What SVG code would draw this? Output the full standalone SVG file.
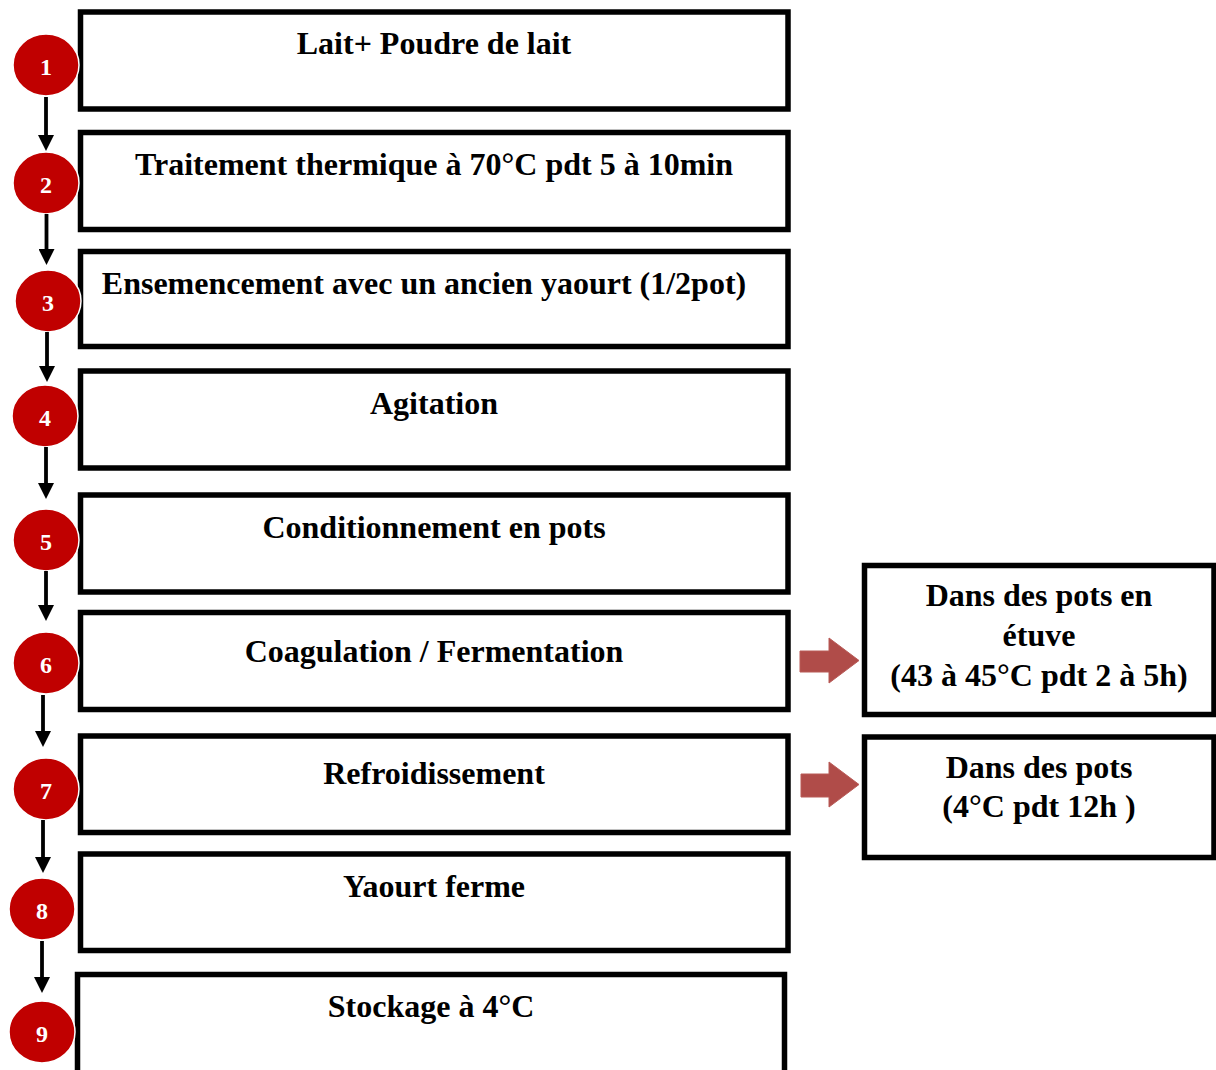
<svg xmlns="http://www.w3.org/2000/svg" width="1216" height="1070" viewBox="0 0 1216 1070">
<defs>
<style>
.box{fill:#fff;stroke:#000;stroke-width:5.5}
.t{font-family:"Liberation Serif","Times New Roman",serif;font-weight:bold;font-size:32px;fill:#000;text-anchor:middle}
.c{fill:#C00000;stroke:#fff;stroke-width:1.5}
.n{font-family:"Liberation Serif","Times New Roman",serif;font-weight:bold;font-size:24px;fill:#fff;text-anchor:middle}
.ln{stroke:#000;stroke-width:3.8;fill:none;marker-end:url(#ah)}
.ra{fill:#B04C49;stroke:#B85A57;stroke-width:1}
</style>
<marker id="ah" markerUnits="userSpaceOnUse" markerWidth="16" markerHeight="16" viewBox="0 0 16 16" refX="6" refY="8" orient="auto">
<path d="M0,0 L16,8 L0,16 z" fill="#000"/>
</marker>
</defs>
<rect width="1216" height="1070" fill="#fff"/>

<g id="step1"><rect class="box" x="80.5" y="12" width="707.5" height="97"/><text class="t" x="434" y="54">Lait+ Poudre de lait</text></g>
<g id="step2"><rect class="box" x="80.5" y="132.5" width="707.5" height="97"/><text class="t" x="434" y="175">Traitement thermique à 70°C pdt 5 à 10min</text></g>
<g id="step3"><rect class="box" x="80.5" y="251.5" width="707.5" height="95"/><text class="t" x="424" y="294">Ensemencement avec un ancien yaourt (1/2pot)</text></g>
<g id="step4"><rect class="box" x="80.5" y="371" width="707.5" height="97"/><text class="t" x="434" y="414">Agitation</text></g>
<g id="step5"><rect class="box" x="80.5" y="495" width="707.5" height="97"/><text class="t" x="434" y="538">Conditionnement en pots</text></g>
<g id="step6"><rect class="box" x="80.5" y="612.5" width="707.5" height="97"/><text class="t" x="434" y="662">Coagulation / Fermentation</text></g>
<g id="step7"><rect class="box" x="80.5" y="736" width="707.5" height="96.5"/><text class="t" x="434" y="784">Refroidissement</text></g>
<g id="step8"><rect class="box" x="80.5" y="854" width="707.5" height="96.5"/><text class="t" x="434" y="897">Yaourt ferme</text></g>
<g id="step9"><rect class="box" x="77.5" y="974.5" width="707" height="110"/><text class="t" x="431" y="1017">Stockage à 4°C</text></g>

<g id="note6"><rect class="box" x="864.5" y="565.5" width="349.5" height="149"/>
<text class="t" x="1039" y="606">Dans des pots en</text>
<text class="t" x="1039" y="646">étuve</text>
<text class="t" x="1039" y="686">(43 à 45°C pdt 2 à 5h)</text></g>
<g id="note7"><rect class="box" x="864.5" y="737" width="349.5" height="120.5"/>
<text class="t" x="1039" y="778">Dans des pots</text>
<text class="t" x="1039" y="817">(4°C pdt 12h )</text></g>

<g id="badges">
<g id="b1"><ellipse class="c" cx="46" cy="65" rx="33" ry="31"/><text class="n" x="46" y="75">1</text></g>
<g id="b2"><ellipse class="c" cx="46" cy="183" rx="33" ry="31"/><text class="n" x="46" y="193">2</text></g>
<g id="b3"><ellipse class="c" cx="48" cy="301" rx="33" ry="31"/><text class="n" x="48" y="311">3</text></g>
<g id="b4"><ellipse class="c" cx="45" cy="416" rx="33" ry="31"/><text class="n" x="45" y="426">4</text></g>
<g id="b5"><ellipse class="c" cx="46" cy="540" rx="33" ry="31"/><text class="n" x="46" y="550">5</text></g>
<g id="b6"><ellipse class="c" cx="46" cy="663" rx="33" ry="31"/><text class="n" x="46" y="673">6</text></g>
<g id="b7"><ellipse class="c" cx="46" cy="789" rx="33" ry="31"/><text class="n" x="46" y="799">7</text></g>
<g id="b8"><ellipse class="c" cx="42" cy="909" rx="33" ry="31"/><text class="n" x="42" y="919">8</text></g>
<g id="b9"><ellipse class="c" cx="42" cy="1032" rx="33" ry="31"/><text class="n" x="42" y="1042">9</text></g>
</g>

<g id="connectors">
<line class="ln" x1="46" y1="97" x2="46" y2="141"/>
<line class="ln" x1="46.5" y1="214" x2="46.5" y2="255"/>
<line class="ln" x1="47" y1="332" x2="47" y2="372"/>
<line class="ln" x1="46" y1="447" x2="46" y2="489"/>
<line class="ln" x1="46" y1="571" x2="46" y2="611"/>
<line class="ln" x1="43" y1="695" x2="43" y2="737"/>
<line class="ln" x1="43" y1="820" x2="43" y2="863"/>
<line class="ln" x1="42" y1="941" x2="42" y2="983"/>
<polygon class="ra" points="800,651 829,651 829,638 859,660.5 829,683 829,672 800,672"/>
<polygon class="ra" points="801,774 829,774 829,762 859,784.5 829,807 829,797 801,797"/>
</g>
</svg>
